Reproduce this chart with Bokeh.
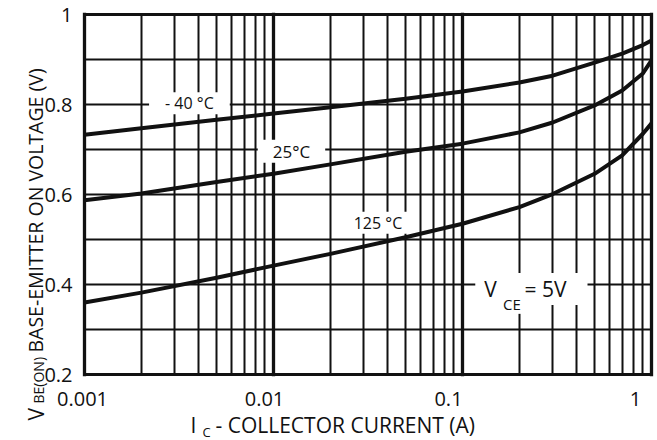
import math
from bokeh.plotting import figure
from bokeh.models import (Range1d, FixedTicker, Label, LabelSet, ColumnDataSource, Grid)
from bokeh.core.properties import value
from bokeh.embed import file_html
from bokeh.resources import INLINE

# ---- data ----
ic = [0.001, 0.002, 0.005, 0.01, 0.02, 0.05, 0.1, 0.2, 0.3, 0.5, 0.7, 0.9, 1.0]
vbe_m40 = [0.733, 0.747, 0.766, 0.780, 0.794, 0.813, 0.829, 0.849, 0.864, 0.893, 0.913, 0.932, 0.942]
vbe_25 = [0.587, 0.602, 0.628, 0.646, 0.667, 0.695, 0.713, 0.738, 0.760, 0.798, 0.831, 0.869, 0.898]
vbe_125 = [0.360, 0.382, 0.415, 0.442, 0.468, 0.505, 0.535, 0.572, 0.601, 0.646, 0.687, 0.735, 0.758]

x_ticks = [0.001, 0.01, 0.1, 1.0]
x_tick_labels = ["0.001", "0.01", "0.1", "1"]
x_minor = [m * d for d in (0.001, 0.01, 0.1) for m in range(2, 10)]
y_ticks = [0.2, 0.4, 0.6, 0.8, 1.0]
y_tick_labels = ["0.2", "0.4", "0.6", "0.8", "1"]
y_grid_minor = [0.3, 0.4, 0.5, 0.6, 0.7, 0.8, 0.9]

FONT = "Open Sans"
INK = "#111111"

# ---- layout (pixels) ----
W, H = 657, 440
LEFT, RIGHT, TOP, BOTTOM = 84, 651, 14, 374      # chart box in canvas pixels
X0, X1 = 0.001, 1.0
Y0, Y1 = 0.2, 1.0
PX_DEC = (RIGHT - LEFT) / (math.log10(X1) - math.log10(X0))
PXV = (BOTTOM - TOP) / (Y1 - Y0)

x_lo = 10 ** (math.log10(X0) - LEFT / PX_DEC)
x_hi = 10 ** (math.log10(X1) + (W - RIGHT) / PX_DEC)
y_lo = Y0 - (H - BOTTOM) / PXV
y_hi = Y1 + TOP / PXV

p = figure(width=W, height=H, x_axis_type="log",
           x_range=Range1d(x_lo, x_hi), y_range=Range1d(y_lo, y_hi),
           x_axis_location=None, y_axis_location=None,
           output_backend="svg", toolbar_location=None,
           min_border=0, min_border_left=0, min_border_right=0,
           min_border_top=0, min_border_bottom=0)
p.background_fill_color = "white"
p.border_fill_color = "white"
p.outline_line_color = None

# grids (the outer grid lines form the chart border)
xg, yg = p.xgrid[0], p.ygrid[0]
xg.ticker = FixedTicker(ticks=x_ticks, minor_ticks=x_minor)
xg.grid_line_color = INK
xg.grid_line_width = 3.3
xg.grid_line_cap = "square"
xg.minor_grid_line_color = INK
xg.minor_grid_line_width = 2
yg.ticker = FixedTicker(ticks=[Y0, Y1], minor_ticks=y_grid_minor)
yg.grid_line_color = INK
yg.grid_line_width = 3
yg.grid_line_cap = "square"
yg.minor_grid_line_color = INK
yg.minor_grid_line_width = 2.2
if "cross_bounds" in Grid.properties():
    xg.cross_bounds = (Y0, Y1)
    yg.cross_bounds = (X0, X1)

# tick labels
yt_src = ColumnDataSource(dict(x=[X0] * len(y_ticks), y=y_ticks, text=y_tick_labels))
p.add_layout(LabelSet(x="x", y="y", text="text", x_offset=-12, source=yt_src,
                      text_align="right", text_baseline="middle",
                      text_font=value(FONT), text_font_size="20px", text_color=INK))
xt_src = ColumnDataSource(dict(x=x_ticks, y=[Y0 - 24 / PXV] * len(x_ticks),
                               text=x_tick_labels, dx=[-2, -9, -14, -16]))
p.add_layout(LabelSet(x="x", y="y", text="text", x_offset="dx", source=xt_src,
                      text_align="center", text_baseline="middle",
                      text_font=value(FONT), text_font_size="20px", text_color=INK))

# curves
for v in (vbe_m40, vbe_25, vbe_125):
    p.line(ic, v, line_color=INK, line_width=4, line_join="round")

# curve labels with white boxes (x, y = centre of the text; padding = left, right, top, bottom)
def box_label(text, x, y, size, padx, pady):
    p.add_layout(Label(x=x, y=y, text=text, text_font=FONT, text_font_size=size,
                       text_color=INK, text_align="center", text_baseline="middle",
                       background_fill_color="white", background_fill_alpha=1.0,
                       padding=(padx, padx, pady, pady), level="underlay"))

box_label("- 40 °C", 0.00359, 0.803, "16px", 16, 0)
box_label("25°C", 0.01245, 0.696, "17px", 15, 0)
box_label("125 °C", 0.0357, 0.537, "16px", 12, 0)
box_label("= 5V", 0.2749, 0.390, "21px", 21, 2)
box_label("V", 0.1407, 0.390, "21px", 9, 2)
box_label("CE", 0.1827, 0.357, "15px", 3, 0)

# y axis title (rotated, with subscript)
def ylab(text, dy, size, dx):
    p.add_layout(Label(x=X0, y=Y0 + dy / PXV, x_offset=dx, text=text, angle=math.pi / 2,
                       text_font=FONT, text_font_size=size, text_color=INK,
                       text_align="left", text_baseline="middle"))

ylab("V", -46, "21px", -49)
ylab("BE(ON)", -29, "14px", -46)
ylab("BASE-EMITTER ON VOLTAGE (V)", 22, "19.5px", -49)

# x axis title (with subscript)
def xlab(text, dy, size, dx):
    p.add_layout(Label(x=X0, y=Y0 - dy / PXV, x_offset=dx, text=text,
                       text_font=FONT, text_font_size=size, text_color=INK,
                       text_align="left", text_baseline="middle"))

xlab("I", 50, "21px", 106)
xlab("C", 57, "13px", 118)
xlab("- COLLECTOR CURRENT (A)", 50, "21px", 131)

open("out.html", "w").write(file_html(p, INLINE))
